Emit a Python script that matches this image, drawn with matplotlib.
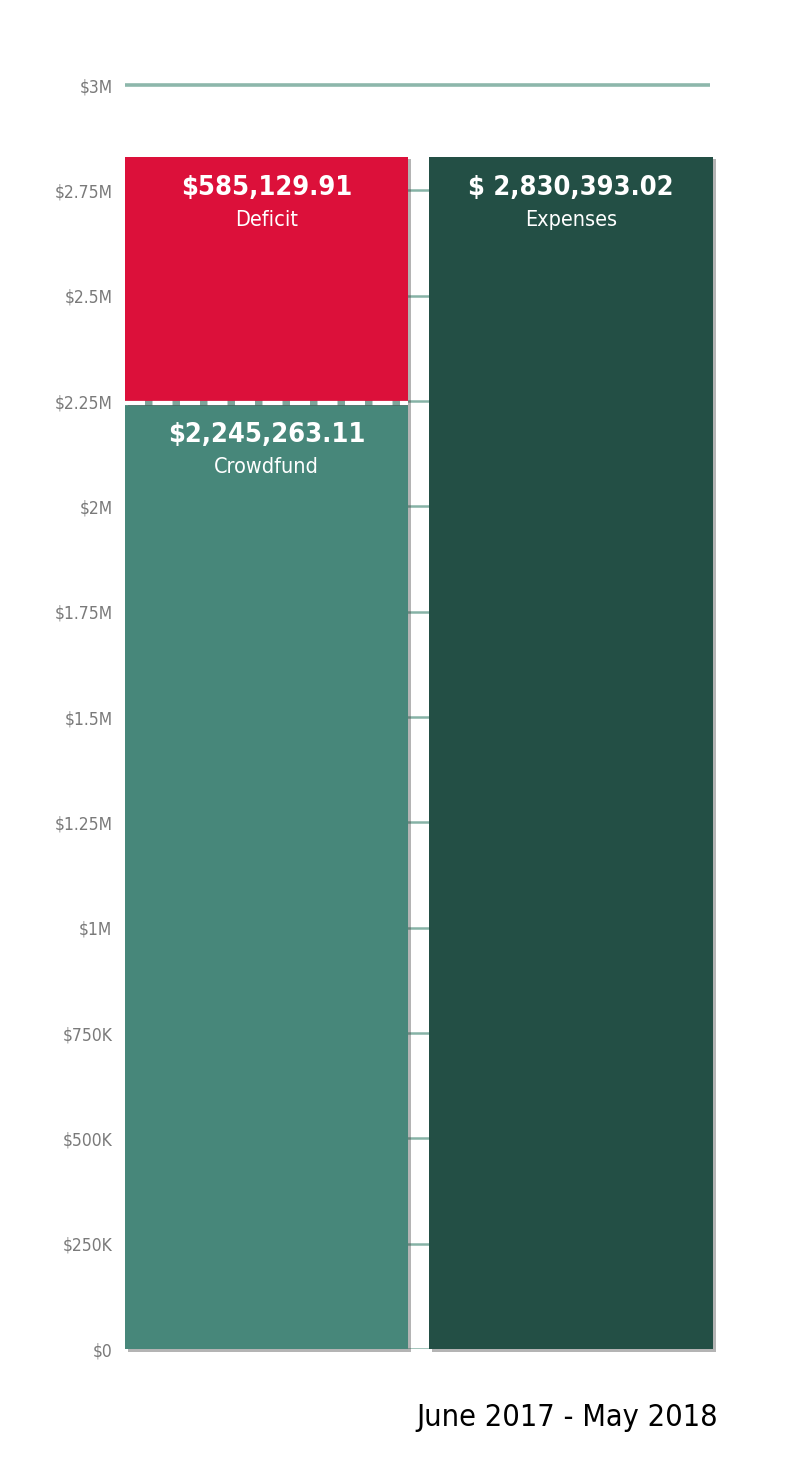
import matplotlib
matplotlib.use("Agg")
import matplotlib.pyplot as plt
import matplotlib.patheffects as pe

plt.rcParams['font.family'] = ['DejaVu Sans']
plt.rcParams['font.stretch'] = 'condensed'

# data
period = "June 2017 - May 2018"
categories = ["Crowdfund", "Deficit", "Expenses"]
values = [2245263.11, 585129.91, 2830393.02]
value_labels = [r"\$2,245,263.11", r"\$585,129.91", r"\$ 2,830,393.02"]
tick_values = [0, 250000, 500000, 750000, 1000000, 1250000, 1500000,
               1750000, 2000000, 2250000, 2500000, 2750000, 3000000]
tick_labels = ["$0", "$250K", "$500K", "$750K", "$1M", "$1.25M", "$1.5M",
               "$1.75M", "$2M", "$2.25M", "$2.5M", "$2.75M", "$3M"]
tick_labels = [t.replace("$", r"\$") for t in tick_labels]

c_crowd = "#47877a"
c_deficit = "#dc103a"
c_exp = "#234f45"
c_grid = "#86b3a6"

fig = plt.figure(figsize=(8, 14.74), dpi=100)
ax = fig.add_axes([0.15625, 0.0848, 0.735, 0.8575])

crowd, deficit, expenses = values
shadow = [pe.SimplePatchShadow(offset=(2, -2), shadow_rgbFace="#444444", alpha=0.4), pe.Normal()]

# gridlines, only seen between the bars
ax.hlines(tick_values[:-1], 0, 1.99, colors=c_grid, lw=1.8, zorder=1)
ax.hlines(tick_values[-1], 0, 1.99, colors="#8db7ab", lw=2.6, zorder=1, clip_on=False)

w1 = 0.963
x2 = 1.034
w2 = 0.966
b1 = ax.bar(0, crowd, width=w1, align="edge", color=c_crowd, zorder=2)
b2 = ax.bar(0, deficit, bottom=crowd, width=w1, align="edge", color=c_deficit, zorder=2)
b3 = ax.bar(x2, expenses, width=w2, align="edge", color=c_exp, zorder=2)
for b in (b1, b2, b3):
    for p in b:
        p.set_path_effects(shadow)
        p.set_clip_on(False)

# dashed seam between crowdfund and deficit
ax.plot([0, w1], [crowd, crowd], color="#7fa39a", lw=3, zorder=3, solid_capstyle="butt")
ax.plot([0, w1], [crowd, crowd], color="white", lw=3, zorder=4, dashes=(4.8, 1.8))

tops = [crowd, crowd + deficit, expenses]
centers = [w1 / 2, w1 / 2, x2 + w2 / 2]
for cat, lab, cx, top in zip(categories, value_labels, centers, tops):
    ax.annotate(lab, xy=(cx, top), xytext=(0, -23), textcoords="offset points",
                ha="center", va="center", color="white", fontsize=19.5,
                fontweight="bold", zorder=5)
    ax.annotate(cat, xy=(cx, top), xytext=(0, -46), textcoords="offset points",
                ha="center", va="center", color="white", fontsize=15.5, zorder=5)

ax.set_xlim(0, 2)
ax.set_ylim(0, 3000000)
ax.set_xticks([])
ax.set_yticks(tick_values)
ax.set_yticklabels(tick_labels, fontsize=12.5, color="#7a7a7a")
ax.tick_params(axis="y", length=0, pad=9)
for s in ax.spines.values():
    s.set_visible(False)

fig.text(0.8975, 0.038, period, ha="right", va="center", fontsize=22, color="black")

fig.savefig("out.png", dpi=100)
